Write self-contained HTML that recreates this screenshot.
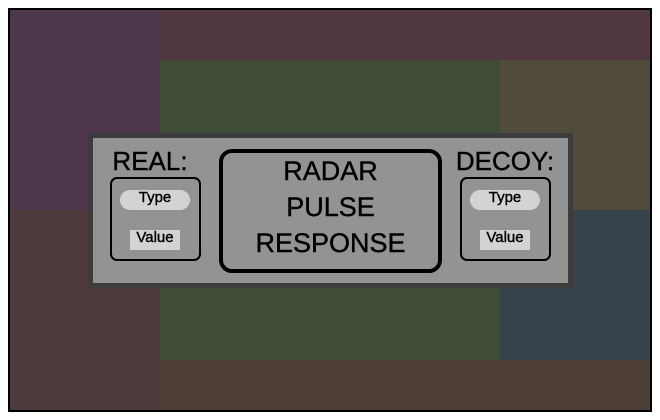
<!DOCTYPE html>
<html><head><style>
body{margin:0;width:660px;height:420px;background:#fff;position:relative;font-family:"Liberation Sans",sans-serif;overflow:hidden}
div{position:absolute;box-sizing:border-box}
.t{color:#000;text-align:center;white-space:nowrap;-webkit-text-stroke:0.4px #000}
</style></head><body>
<div style="left:8px;top:8px;width:644px;height:404px;border:2px solid #000;background:#3f4d37"></div>
<div style="left:10px;top:10px;width:150px;height:200px;background:#4e374c"></div>
<div style="left:10px;top:210px;width:150px;height:200px;background:#4e3a3a"></div>
<div style="left:160px;top:10px;width:490px;height:50px;background:#51373f"></div>
<div style="left:500px;top:60px;width:150px;height:150px;background:#504b3a"></div>
<div style="left:500px;top:210px;width:150px;height:150px;background:#37434c"></div>
<div style="left:160px;top:360px;width:490px;height:50px;background:#4d3f37"></div>
<div style="left:88px;top:133px;width:485px;height:155px;background:#939393;border:5px solid #3c3c3c"></div>
<div class="t" style="left:100px;top:147px;width:100px;font-size:26px;line-height:28px">REAL:</div>
<div style="left:110px;top:177px;width:91px;height:84px;border:2px solid #000;border-radius:7px"></div>
<div class="t" style="left:120px;top:190px;width:70px;height:20px;background:#d3d3d3;border-radius:10px;font-size:15px;line-height:15px">Type</div>
<div class="t" style="left:130px;top:230px;width:50px;height:20px;background:#d3d3d3;font-size:15px;line-height:15px">Value</div>
<div style="left:219px;top:149px;width:223px;height:124px;border:4px solid #000;border-radius:13px"></div>
<div class="t" style="left:219px;top:156px;width:223px;font-size:27px;line-height:30px">RADAR</div>
<div class="t" style="left:219px;top:192px;width:223px;font-size:27px;line-height:30px">PULSE</div>
<div class="t" style="left:219px;top:228px;width:223px;font-size:27px;line-height:30px">RESPONSE</div>
<div class="t" style="left:450px;top:147px;width:110px;font-size:26px;line-height:28px">DECOY:</div>
<div style="left:460px;top:177px;width:91px;height:84px;border:2px solid #000;border-radius:7px"></div>
<div class="t" style="left:470px;top:190px;width:70px;height:20px;background:#d3d3d3;border-radius:10px;font-size:15px;line-height:15px">Type</div>
<div class="t" style="left:480px;top:230px;width:50px;height:20px;background:#d3d3d3;font-size:15px;line-height:15px">Value</div>
</body></html>
